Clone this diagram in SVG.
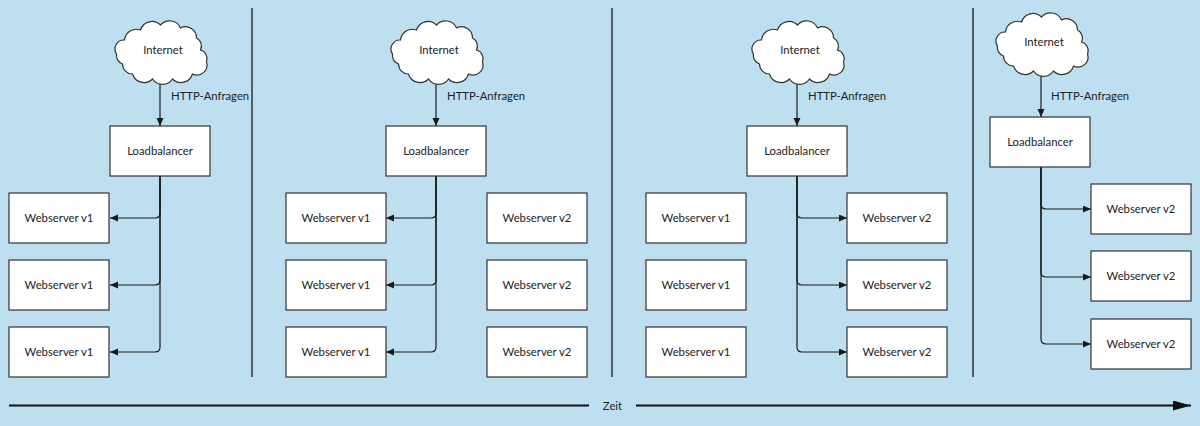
<svg xmlns="http://www.w3.org/2000/svg" width="1200" height="426" viewBox="0 0 1200 426">
<style>
.box{fill:#fff;stroke:#333;stroke-width:1.2}
.t{font-family:Lato,"Noto Sans",sans-serif;font-size:11.3px;fill:#222;text-anchor:middle}
.ts{font-family:Lato,"Noto Sans",sans-serif;font-size:11.3px;fill:#222}
.c{fill:none;stroke:#1a1a1a;stroke-width:1.2}
.div{stroke:#333;stroke-width:1.5}
.cloud{fill:#fff;stroke:#333;stroke-width:1.2}
</style>
<defs>
<marker id="ah" markerUnits="userSpaceOnUse" markerWidth="9" markerHeight="8" refX="8" refY="3.5" orient="auto"><path d="M0,0 L8,3.5 L0,7 z" fill="#1a1a1a"/></marker>
<marker id="big" markerUnits="userSpaceOnUse" markerWidth="20" markerHeight="12" refX="18" refY="5" orient="auto"><path d="M0,0 L18,5 L0,10 z" fill="#111"/></marker>
<path id="cl" d="M-28,22 A10 10 0 0 1 -38,12 A9 9 0 0 1 -44,2 A9 9 0 0 1 -36,-12 A12 12 0 0 1 -20,-22 A12 12 0 0 1 0,-27 A12 12 0 0 1 20,-24 A11 11 0 0 1 36,-14 A9 9 0 0 1 40,-2 A9 9 0 0 1 46,10 A10 10 0 0 1 32,22 A12 12 0 0 1 12,27 A12 12 0 0 1 -8,27 A12 12 0 0 1 -28,22 Z"/>
</defs>
<rect width="1200" height="426" fill="#bddff0"/>
<g id="dividers">
<line class="div" x1="252" y1="8" x2="252" y2="377"/>
<line class="div" x1="612" y1="8" x2="612" y2="377"/>
<line class="div" x1="973" y1="8" x2="973" y2="377"/>
</g>
<g id="connectors">
<path class="c" d="M160,79 V126" marker-end="url(#ah)"/>
<path class="c" d="M160,176 V213 Q160,218 155,218 H110" marker-end="url(#ah)"/>
<path class="c" d="M160,176 V280 Q160,285 155,285 H110" marker-end="url(#ah)"/>
<path class="c" d="M160,176 V347 Q160,352 155,352 H110" marker-end="url(#ah)"/>
<path class="c" d="M436,79 V126" marker-end="url(#ah)"/>
<path class="c" d="M436,176 V213 Q436,218 431,218 H386" marker-end="url(#ah)"/>
<path class="c" d="M436,176 V280 Q436,285 431,285 H386" marker-end="url(#ah)"/>
<path class="c" d="M436,176 V347 Q436,352 431,352 H386" marker-end="url(#ah)"/>
<path class="c" d="M797,79 V126" marker-end="url(#ah)"/>
<path class="c" d="M797,176 V213 Q797,218 802,218 H847" marker-end="url(#ah)"/>
<path class="c" d="M797,176 V280 Q797,285 802,285 H847" marker-end="url(#ah)"/>
<path class="c" d="M797,176 V347 Q797,352 802,352 H847" marker-end="url(#ah)"/>
<path class="c" d="M1041,71 V117" marker-end="url(#ah)"/>
<path class="c" d="M1041,167 V204 Q1041,209 1046,209 H1091" marker-end="url(#ah)"/>
<path class="c" d="M1041,167 V272 Q1041,277 1046,277 H1091" marker-end="url(#ah)"/>
<path class="c" d="M1041,167 V339 Q1041,344 1046,344 H1091" marker-end="url(#ah)"/>
</g>
<g id="labels">
<text class="ts" x="171" y="100">HTTP-Anfragen</text>
<text class="ts" x="447" y="100">HTTP-Anfragen</text>
<text class="ts" x="808" y="100">HTTP-Anfragen</text>
<text class="ts" x="1051" y="100">HTTP-Anfragen</text>
</g>
<g id="internet1"><use href="#cl" class="cloud" transform="translate(160.5,52)"/><text class="t" x="163" y="54">Internet</text></g>
<g id="lb1"><rect class="box" x="110" y="126" width="100" height="50"/><text class="t" x="160" y="155">Loadbalancer</text></g>
<g id="ws1a"><rect class="box" x="9" y="193" width="100" height="50"/><text class="t" x="59" y="222">Webserver v1</text></g>
<g id="ws1b"><rect class="box" x="9" y="260" width="100" height="50"/><text class="t" x="59" y="289">Webserver v1</text></g>
<g id="ws1c"><rect class="box" x="9" y="327" width="100" height="50"/><text class="t" x="59" y="356">Webserver v1</text></g>
<g id="internet2"><use href="#cl" class="cloud" transform="translate(436.5,52)"/><text class="t" x="439" y="54">Internet</text></g>
<g id="lb2"><rect class="box" x="386" y="126" width="100" height="50"/><text class="t" x="436" y="155">Loadbalancer</text></g>
<g id="ws2a"><rect class="box" x="286" y="193" width="100" height="50"/><text class="t" x="336" y="222">Webserver v1</text></g>
<g id="ws2b"><rect class="box" x="286" y="260" width="100" height="50"/><text class="t" x="336" y="289">Webserver v1</text></g>
<g id="ws2c"><rect class="box" x="286" y="327" width="100" height="50"/><text class="t" x="336" y="356">Webserver v1</text></g>
<g id="ws2d"><rect class="box" x="487" y="193" width="100" height="50"/><text class="t" x="537" y="222">Webserver v2</text></g>
<g id="ws2e"><rect class="box" x="487" y="260" width="100" height="50"/><text class="t" x="537" y="289">Webserver v2</text></g>
<g id="ws2f"><rect class="box" x="487" y="327" width="100" height="50"/><text class="t" x="537" y="356">Webserver v2</text></g>
<g id="internet3"><use href="#cl" class="cloud" transform="translate(797.5,52)"/><text class="t" x="800" y="54">Internet</text></g>
<g id="lb3"><rect class="box" x="747" y="126" width="100" height="50"/><text class="t" x="797" y="155">Loadbalancer</text></g>
<g id="ws3a"><rect class="box" x="646" y="193" width="100" height="50"/><text class="t" x="696" y="222">Webserver v1</text></g>
<g id="ws3b"><rect class="box" x="646" y="260" width="100" height="50"/><text class="t" x="696" y="289">Webserver v1</text></g>
<g id="ws3c"><rect class="box" x="646" y="327" width="100" height="50"/><text class="t" x="696" y="356">Webserver v1</text></g>
<g id="ws3d"><rect class="box" x="847" y="193" width="100" height="50"/><text class="t" x="897" y="222">Webserver v2</text></g>
<g id="ws3e"><rect class="box" x="847" y="260" width="100" height="50"/><text class="t" x="897" y="289">Webserver v2</text></g>
<g id="ws3f"><rect class="box" x="847" y="327" width="100" height="50"/><text class="t" x="897" y="356">Webserver v2</text></g>
<g id="internet4"><use href="#cl" class="cloud" transform="translate(1041.5,44)"/><text class="t" x="1044" y="46">Internet</text></g>
<g id="lb4"><rect class="box" x="990" y="117" width="100" height="50"/><text class="t" x="1040" y="146">Loadbalancer</text></g>
<g id="ws4a"><rect class="box" x="1091" y="184" width="100" height="50"/><text class="t" x="1141" y="213">Webserver v2</text></g>
<g id="ws4b"><rect class="box" x="1091" y="251" width="100" height="50"/><text class="t" x="1141" y="280">Webserver v2</text></g>
<g id="ws4c"><rect class="box" x="1091" y="319" width="100" height="50"/><text class="t" x="1141" y="348">Webserver v2</text></g>
<g id="timeline">
<line x1="9" y1="405.5" x2="589" y2="405.5" stroke="#111" stroke-width="2"/>
<line x1="636" y1="405.5" x2="1191" y2="405.5" stroke="#111" stroke-width="2" marker-end="url(#big)"/>
<text class="t" x="612.5" y="410">Zeit</text>
</g>
</svg>
